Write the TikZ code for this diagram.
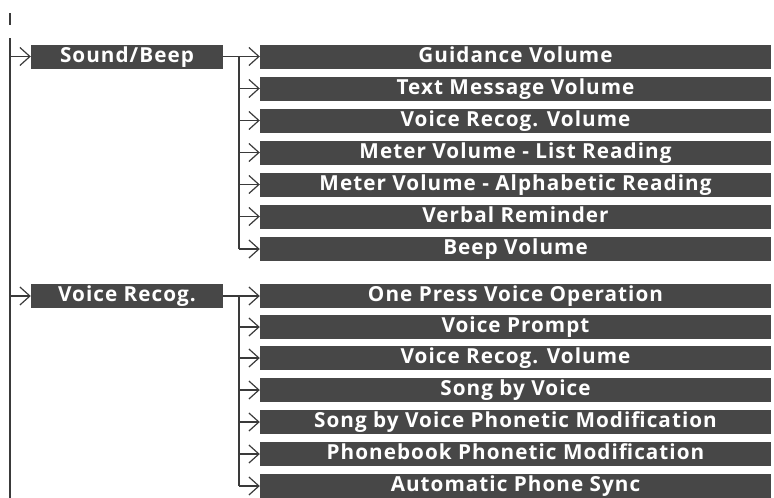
\documentclass[tikz,border=0pt]{standalone}
\usepackage{fontspec}
\setmainfont{Open Sans}
\newfontfamily\boxfont[LetterSpace=5]{Open Sans}
\usetikzlibrary{arrows.meta}
\definecolor{boxgray}{HTML}{474747}
\definecolor{linegray}{HTML}{3A3A3A}
\begin{document}
\begin{tikzpicture}[x=1pt,y=-1pt,
  catbox/.style={fill=boxgray, text=white, font=\boxfont\bfseries\fontsize{20.7}{20.7}\selectfont,
    minimum width=192pt, minimum height=24pt, inner sep=0pt, text height=14pt, text depth=3pt, anchor=center},
  itembox/.style={catbox, minimum width=511pt},
  conn/.style={draw=linegray, line width=1.2pt},
  arr/.style={conn, -{Straight Barb[length=10pt,width=18pt,line width=1.2pt]}}]
\useasboundingbox (0,0) rectangle (774,498);
% top tick and main line
\coordinate (tickA) at (10,13);
\coordinate (tickB) at (10,25);
\draw[conn] (tickA) -- (tickB);
\coordinate (mainA) at (10,38);
\coordinate (mainB) at (10,498);
\draw[conn] (mainA) -- (mainB);
% category boxes
\node[catbox] (sound) at (127,56.5) {Sound/Beep};
\node[catbox] (voice) at (127,296) {Voice Recog.};
\coordinate (m1) at (10,56.5);
\coordinate (m2) at (10,296);
\draw[arr] (m1) -- (sound.west);
\draw[arr] (m2) -- (voice.west);
% Sound/Beep branch
\coordinate (sbA) at (239,56.5);
\coordinate (sbB) at (239,249);
\draw[conn] (sound.east) -- (sbA);
\draw[conn] (sbA) -- (sbB);
\foreach \i/\y/\t in {1/56.5/Guidance Volume, 2/88.5/Text Message Volume, 3/120.5/Voice Recog. Volume,
  4/152.5/Meter Volume - List Reading, 5/184.5/Meter Volume - Alphabetic Reading,
  6/216.5/Verbal Reminder, 7/249/Beep Volume}{
  \node[itembox] (s\i) at (515.5,\y) {\t};
  \coordinate (sj\i) at (239,\y);
  \draw[arr] (sj\i) -- (s\i.west);
}
% Voice Recog. branch
\coordinate (vbA) at (239,296);
\coordinate (vbB) at (239,486);
\draw[conn] (voice.east) -- (vbA);
\draw[conn] (vbA) -- (vbB);
\foreach \i/\y/\t in {1/296/One Press Voice Operation, 2/327/Voice Prompt, 3/358/Voice Recog. Volume,
  4/390/Song by Voice, 5/422/Song by Voice Phonetic Modification,
  6/454/Phonebook Phonetic Modification, 7/486/Automatic Phone Sync}{
  \node[itembox] (v\i) at (515.5,\y) {\t};
  \coordinate (vj\i) at (239,\y);
  \draw[arr] (vj\i) -- (v\i.west);
}
\end{tikzpicture}
\end{document}
